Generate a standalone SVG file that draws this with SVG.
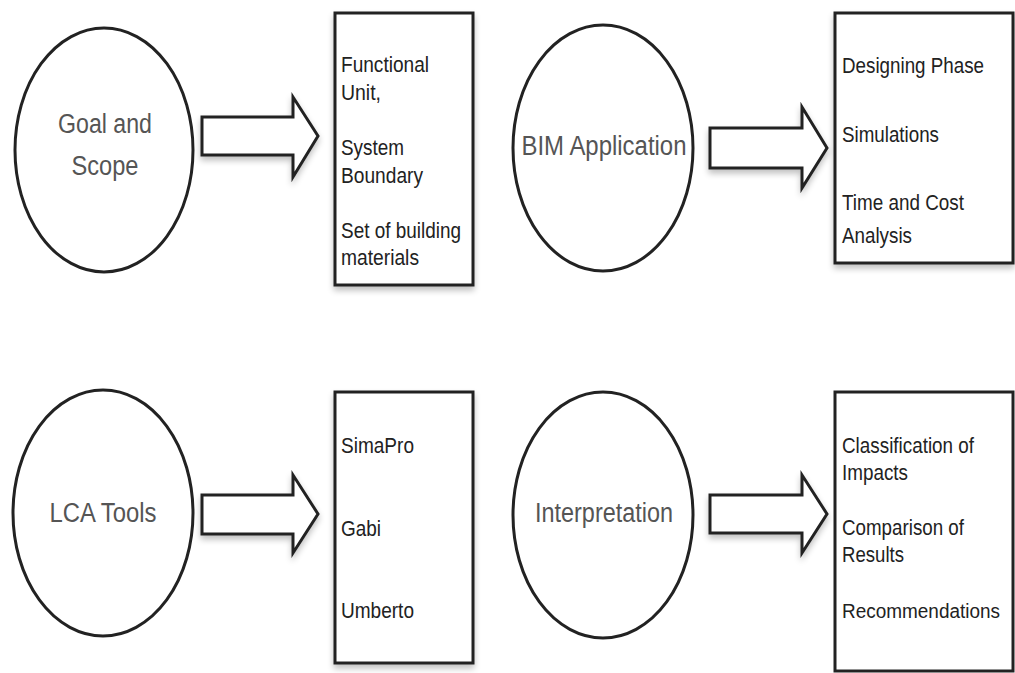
<svg xmlns="http://www.w3.org/2000/svg" width="1015" height="673" viewBox="0 0 1015 673">
<defs>
<filter id="sh" x="-20%" y="-20%" width="140%" height="140%">
<feGaussianBlur in="SourceAlpha" stdDeviation="3"/>
<feOffset dx="0" dy="4" result="b"/>
<feComponentTransfer><feFuncA type="linear" slope="0.25"/></feComponentTransfer>
<feMerge><feMergeNode/><feMergeNode in="SourceGraphic"/></feMerge>
</filter>
</defs>
<style>
.c{fill:#fff;stroke:#222;stroke-width:3}
.b{fill:#fff;stroke:#222;stroke-width:3}
.a{fill:#fff;stroke:#222;stroke-width:3;stroke-linejoin:miter}
.ct{font-family:"Liberation Sans",Arial,sans-serif;font-size:27px;fill:#555;text-anchor:middle}
.bt{font-family:"Liberation Sans",Arial,sans-serif;font-size:22px;fill:#222}
</style>
<rect width="1015" height="673" fill="#fff"/>
<g id="connectors">
<path class="a" filter="url(#sh)" d="M202,117 H293 V97 L318,136 L293,177 V155 H202 Z"/>
<path class="a" filter="url(#sh)" d="M710,128 H802 V107 L827,148 L802,188 V168 H710 Z"/>
<path class="a" filter="url(#sh)" d="M202,495 H293 V475 L318,514 L293,553 V534 H202 Z"/>
<path class="a" filter="url(#sh)" d="M710,495 H802 V475 L827,514 L802,553 V533 H710 Z"/>
</g>
<g id="goal">
<ellipse class="c" cx="104" cy="150" rx="89" ry="122"/>
<text class="ct" x="105" y="133" textLength="94" lengthAdjust="spacingAndGlyphs">Goal and</text>
<text class="ct" x="105" y="175" textLength="67" lengthAdjust="spacingAndGlyphs">Scope</text>
</g>
<g id="goal-box">
<rect class="b" filter="url(#sh)" x="335" y="13" width="138" height="272"/>
<text class="bt" x="341" y="72" textLength="88" lengthAdjust="spacingAndGlyphs">Functional</text>
<text class="bt" x="341" y="100" textLength="40" lengthAdjust="spacingAndGlyphs">Unit,</text>
<text class="bt" x="341" y="155" textLength="63" lengthAdjust="spacingAndGlyphs">System</text>
<text class="bt" x="341" y="183" textLength="82" lengthAdjust="spacingAndGlyphs">Boundary</text>
<text class="bt" x="341" y="238" textLength="120" lengthAdjust="spacingAndGlyphs">Set of building</text>
<text class="bt" x="341" y="265" textLength="78" lengthAdjust="spacingAndGlyphs">materials</text>
</g>
<g id="bim">
<ellipse class="c" cx="603" cy="148" rx="90" ry="123"/>
<text class="ct" x="604" y="155" textLength="165" lengthAdjust="spacingAndGlyphs">BIM Application</text>
</g>
<g id="bim-box">
<rect class="b" filter="url(#sh)" x="835" y="13" width="178" height="250"/>
<text class="bt" x="842" y="73" textLength="142" lengthAdjust="spacingAndGlyphs">Designing Phase</text>
<text class="bt" x="842" y="142" textLength="97" lengthAdjust="spacingAndGlyphs">Simulations</text>
<text class="bt" x="842" y="210" textLength="122" lengthAdjust="spacingAndGlyphs">Time and Cost</text>
<text class="bt" x="842" y="243" textLength="70" lengthAdjust="spacingAndGlyphs">Analysis</text>
</g>
<g id="lca">
<ellipse class="c" cx="103" cy="513" rx="90" ry="123"/>
<text class="ct" x="103" y="522" textLength="107" lengthAdjust="spacingAndGlyphs">LCA Tools</text>
</g>
<g id="lca-box">
<rect class="b" filter="url(#sh)" x="335" y="392" width="138" height="271"/>
<text class="bt" x="341" y="453" textLength="73" lengthAdjust="spacingAndGlyphs">SimaPro</text>
<text class="bt" x="341" y="536" textLength="40" lengthAdjust="spacingAndGlyphs">Gabi</text>
<text class="bt" x="341" y="618" textLength="73" lengthAdjust="spacingAndGlyphs">Umberto</text>
</g>
<g id="interp">
<ellipse class="c" cx="603" cy="515" rx="90" ry="123"/>
<text class="ct" x="604" y="522" textLength="138" lengthAdjust="spacingAndGlyphs">Interpretation</text>
</g>
<g id="interp-box">
<rect class="b" x="835" y="392" width="178" height="279"/>
<text class="bt" x="842" y="453" textLength="132" lengthAdjust="spacingAndGlyphs">Classification of</text>
<text class="bt" x="842" y="480" textLength="66" lengthAdjust="spacingAndGlyphs">Impacts</text>
<text class="bt" x="842" y="535" textLength="122" lengthAdjust="spacingAndGlyphs">Comparison of</text>
<text class="bt" x="842" y="562" textLength="62" lengthAdjust="spacingAndGlyphs">Results</text>
<text class="bt" x="842" y="618" style="font-size:20px" textLength="158" lengthAdjust="spacingAndGlyphs">Recommendations</text>
</g>
</svg>
